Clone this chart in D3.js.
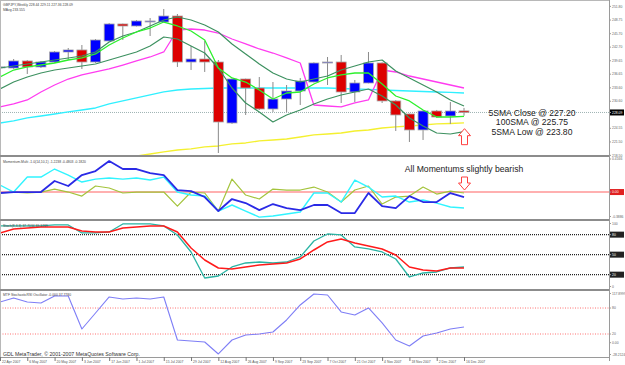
<!DOCTYPE html>
<html>
<head>
<meta charset="utf-8">
<script src="https://d3js.org/d3.v7.min.js"></script>
<style>
  body { margin: 0; background: #fff; }
  svg { display: block; font-family: "Liberation Sans", Arial, sans-serif; }
</style>
</head>
<body>
<div id="chart"></div>
<script>
// GBPJPY weekly, 22 Apr 2007 .. 16 Dec 2007
const weeks = ["22 Apr 2007","29 Apr 2007","6 May 2007","13 May 2007","20 May 2007","27 May 2007",
  "3 Jun 2007","10 Jun 2007","17 Jun 2007","24 Jun 2007","1 Jul 2007","8 Jul 2007","15 Jul 2007",
  "22 Jul 2007","29 Jul 2007","5 Aug 2007","12 Aug 2007","19 Aug 2007","26 Aug 2007","2 Sep 2007",
  "9 Sep 2007","16 Sep 2007","23 Sep 2007","30 Sep 2007","7 Oct 2007","14 Oct 2007","21 Oct 2007",
  "28 Oct 2007","4 Nov 2007","11 Nov 2007","18 Nov 2007","25 Nov 2007","2 Dec 2007","9 Dec 2007","16 Dec 2007"];

const open  = [238.24,238.03,239.60,238.26,239.37,241.61,242.06,239.37,244.07,247.87,247.42,248.42,248.31,249.65,239.37,240.04,239.37,225.74,235.57,233.56,228.87,231.10,232.89,234.90,239.15,239.37,232.67,234.68,239.15,230.66,227.75,224.18,228.42,227.30,228.44];
const high  = [239.15,240.04,239.82,239.60,241.83,242.50,243.17,244.51,248.09,247.95,248.76,249.21,251.22,250.10,242.95,244.07,239.82,235.65,235.65,236.02,234.90,234.23,235.80,239.30,240.49,240.94,235.35,241.61,239.30,230.88,227.85,228.50,228.65,230.43,229.11];
const low   = [237.81,237.81,236.69,238.03,239.15,239.82,237.81,239.15,243.95,244.29,247.30,245.18,248.20,238.26,237.59,237.14,219.03,225.52,227.53,228.65,228.20,228.20,229.76,234.80,234.23,230.21,230.43,234.60,230.21,223.95,221.49,221.94,226.86,225.52,227.36];
const close = [238.28,239.60,238.26,239.37,241.61,242.06,239.37,244.29,247.87,247.42,248.54,248.54,249.65,239.37,240.04,239.37,225.96,235.57,233.56,228.87,231.10,232.89,235.13,239.15,239.37,232.67,234.68,239.15,230.66,227.53,224.18,228.42,227.08,228.42,228.09];

// moving averages on the price chart
const sma5Close = [236.02,237.58,238.26,238.70,239.15,239.82,240.27,241.16,243.17,244.74,246.08,246.97,248.31,247.42,246.30,244.29,238.03,235.80,234.90,233.11,231.10,232.44,232.67,234.46,235.80,236.47,236.91,236.91,234.46,231.77,230.66,228.64,227.08,227.08,227.20];
const sma5High  = [238.03,238.48,238.93,239.37,239.82,240.27,240.71,241.61,243.84,245.18,246.08,247.42,248.76,249.43,248.76,247.64,246.08,243.40,241.16,238.93,236.91,235.57,234.90,235.57,236.24,237.58,238.48,239.37,239.82,237.36,235.80,234.23,232.67,230.88,229.54];
const sma5Low   = [233.34,234.90,236.02,236.91,237.58,238.03,238.48,238.93,239.82,240.71,241.61,242.95,244.96,244.51,242.95,241.38,238.03,233.56,230.21,228.20,225.96,227.53,228.64,229.99,231.10,232.00,232.67,233.34,231.77,229.76,226.86,225.07,223.50,223.28,223.80];
const maPink    = [229.32,229.99,230.88,232.67,234.23,235.57,236.47,237.14,237.81,238.70,239.60,240.49,241.61,246.52,246.75,246.52,245.85,244.51,243.40,242.28,241.38,240.27,239.15,229.76,229.54,229.32,230.21,230.88,237.58,237.14,236.24,235.57,234.90,234.23,233.56];
const maCyan    = [225.74,226.19,226.86,227.30,227.75,228.20,228.64,229.09,229.99,230.66,231.33,232.00,232.67,233.11,233.34,233.45,233.56,233.56,233.56,233.56,233.56,233.56,233.56,233.56,233.56,233.45,233.34,233.23,233.11,233.00,232.89,232.78,232.67,232.56,232.44];
const sma100    = [null,null,null,null,null,null,null,null,null,217.92,218.36,218.81,219.26,219.70,219.93,220.38,220.60,221.05,221.27,221.72,221.94,222.16,222.61,223.06,223.28,223.50,223.95,224.17,224.62,224.85,225.07,225.29,225.52,225.62,225.75];

// Momentum-Multi
const momBlue  = [-0.013,0,0,0,0.148,0.081,0.228,0.282,0.416,0.309,0.309,0.255,0.228,0.027,0.013,-0.067,-0.255,-0.094,-0.148,-0.242,-0.161,-0.215,-0.242,-0.174,-0.174,-0.282,-0.282,-0.013,-0.188,-0.215,-0.054,-0.134,-0.134,-0.013,-0.067];
const momCyan  = [0.094,0,0.201,0.201,0.309,0.228,0.134,0.174,0.188,0.174,0.188,0.161,0.201,0,-0.040,-0.054,-0.255,-0.174,-0.255,-0.336,-0.322,-0.295,-0.268,-0.013,-0.013,-0.134,0.161,0.067,-0.067,-0.054,-0.134,-0.107,-0.148,-0.201,-0.215];
const momOlive = [-0.013,0,-0.013,0,0.040,0,-0.054,0.081,0.054,-0.013,0,0,0,-0.188,0,-0.013,-0.255,0.174,-0.040,-0.094,0.040,0.027,0.027,0.067,0,-0.134,0.027,0.081,-0.161,-0.067,-0.054,0.067,-0.027,0.013,-0.013];

// Stoch(8,3,3)
const stochK = [93,93,93,93,94.5,94.5,82.5,82.5,84,96,96,96,93,79.5,54,15,18,31.5,37.5,39,37.5,39,46.5,70.5,81,79.5,61.5,58.5,54,43.5,16.5,22.5,24,30,31.5];
const stochD = [82.5,88.5,90,91.5,91.5,91.5,85.5,84,84,90,91.5,93,93,84,60,42,30,28.5,31.5,34.5,36,37.5,43.5,57,69,73.5,67.5,63,58.5,49.5,31.5,27,25.5,30,30];

// MTF StochasticRSI
const stochRsi = [93.9,103.2,93.9,91.6,107.8,107.8,31.6,68.5,105.5,100.9,103.2,100.9,105.5,6.2,3.9,1.6,-26.1,6.2,17.8,20.1,24.7,52.4,87.0,112.4,110.1,70.9,63.9,80.1,45.5,6.2,-7.6,15.5,22.4,31.6,36.2];

const priceTicks = [251.80,248.75,245.70,242.70,239.65,236.65,233.60,230.60,224.55,221.50,218.50];
const stochLevels = [80,50,20];
const rsiLevels = [80,20];
const notes = ["5SMA Close @ 227.20","100SMA @ 225.75","5SMA Low @ 223.80"];

const W = 625, H = 365, plotR = 609;
const idx = d3.range(weeks.length);

const svg = d3.select("#chart").append("svg").attr("width", W).attr("height", H);
svg.append("rect").attr("width", W).attr("height", H).attr("fill", "#fff");

// panels
const panels = {
  main:  {top: 0,   bottom: 155},
  mom:   {top: 157, bottom: 219},
  stoch: {top: 221, bottom: 289},
  rsi:   {top: 291, bottom: 357}
};

const x = d3.scaleLinear().domain([0, 34]).range([0, 464]);
const yPrice = d3.scaleLinear().domain([218.36, 253.23]).range([156, 0]);
const yMom = d3.scaleLinear().domain([-0.3886, 0.4166]).range([221, 161]);
const yStoch = d3.scaleLinear().domain([0, 100]).range([288, 221.3]);
const yRsi = d3.scaleLinear().domain([-28.2124, 117.8999]).range([354.9, 291.6]);

const defs = svg.append("defs");
Object.entries(panels).forEach(([k, p]) => {
  defs.append("clipPath").attr("id", "clip-" + k)
    .append("rect").attr("x", 0).attr("y", p.top).attr("width", plotR).attr("height", p.bottom - p.top);
});

function layer(k) {
  return svg.append("g").attr("clip-path", "url(#clip-" + k + ")");
}

function drawLine(g, values, yScale, color, width) {
  const line = d3.line()
    .defined(d => d != null)
    .x((d, i) => x(i))
    .y(d => yScale(d));
  g.append("path").datum(values)
    .attr("d", line)
    .attr("fill", "none")
    .attr("stroke", color)
    .attr("stroke-width", width)
    .attr("stroke-linejoin", "round");
}

// ---- main price panel
const main = layer("main");

main.append("line")
  .attr("x1", 0).attr("x2", plotR)
  .attr("y1", yPrice(close[34])).attr("y2", yPrice(close[34]))
  .attr("stroke", "#9fb3b3").attr("stroke-dasharray", "1,1");

drawLine(main, sma100, yPrice, "#f4f030", 1.3);
drawLine(main, maCyan, yPrice, "#30f0ff", 1.3);
drawLine(main, maPink, yPrice, "#ff3cf0", 1.3);

// candles
const candle = main.selectAll("g.candle").data(idx).join("g").attr("class", "candle");
candle.append("line")
  .attr("x1", i => x(i)).attr("x2", i => x(i))
  .attr("y1", i => yPrice(high[i])).attr("y2", i => yPrice(low[i]))
  .attr("stroke", "#8a8a8a");
candle.append("rect")
  .attr("x", i => x(i) - 5)
  .attr("width", 10)
  .attr("y", i => yPrice(Math.max(open[i], close[i])))
  .attr("height", i => Math.max(1, Math.abs(yPrice(open[i]) - yPrice(close[i]))))
  .attr("fill", i => close[i] >= open[i] ? "#0000ff" : "#dd0000")
  .attr("stroke", "#a8a8a8")
  .attr("stroke-width", 0.8);

drawLine(main, sma5High, yPrice, "#3d9160", 1.2);
drawLine(main, sma5Low, yPrice, "#3d9160", 1.2);
drawLine(main, sma5Close, yPrice, "#2cf02c", 1.3);

svg.append("text").attr("x", 3).attr("y", 6).attr("font-size", 3.4).attr("fill", "#444")
  .text("GBPJPY,Weekly  228.44 229.11 227.36 228.09");
svg.append("text").attr("x", 3).attr("y", 11).attr("font-size", 3.4).attr("fill", "#444")
  .text("MAvg 233.555");

// annotation
const noteX = x(34) + 68;
svg.selectAll("text.note").data(notes).join("text")
  .attr("class", "note")
  .attr("x", noteX)
  .attr("y", (d, i) => 116 + i * 9.3)
  .attr("text-anchor", "middle")
  .attr("font-size", 8.6)
  .attr("fill", "#222")
  .text(d => d);

function upArrow(cx, ty) {
  return `M${cx},${ty} L${cx + 6},${ty + 7} L${cx + 3},${ty + 7} L${cx + 3},${ty + 16} L${cx - 3},${ty + 16} L${cx - 3},${ty + 7} L${cx - 6},${ty + 7} Z`;
}
function downArrow(cx, by) {
  return `M${cx},${by} L${cx + 6},${by - 7} L${cx + 3},${by - 7} L${cx + 3},${by - 13} L${cx - 3},${by - 13} L${cx - 3},${by - 7} L${cx - 6},${by - 7} Z`;
}
svg.append("path").attr("d", upArrow(x(34) + 0.5, yPrice(sma5Low[34]) - 3))
  .attr("fill", "#fff").attr("stroke", "#ff4040");

// ---- momentum panel
const mom = layer("mom");
mom.append("line").attr("x1", 0).attr("x2", plotR)
  .attr("y1", yMom(0)).attr("y2", yMom(0))
  .attr("stroke", "#ffb0b0").attr("stroke-width", 2);
drawLine(mom, momOlive, yMom, "#a4c43c", 1.2);
drawLine(mom, momCyan, yMom, "#30f4ff", 1.4);
drawLine(mom, momBlue, yMom, "#2a2ae6", 1.8);

svg.append("text").attr("x", 3).attr("y", 163).attr("font-size", 3.4).attr("fill", "#444")
  .text("Momentum-Multi -1.0(14,10,1) -1.2238 -0.4803 -0.1820");
svg.append("text").attr("x", x(34)).attr("y", 172).attr("text-anchor", "middle")
  .attr("font-size", 8.6).attr("fill", "#222").text("All Momentums slightly bearish");
svg.append("path").attr("d", downArrow(x(34) + 0.5, 190))
  .attr("fill", "#fff").attr("stroke", "#ff4040");

// ---- stochastic panel
const sto = layer("stoch");
sto.selectAll("line.lvl").data(stochLevels).join("line")
  .attr("x1", 0).attr("x2", plotR)
  .attr("y1", d => yStoch(d)).attr("y2", d => yStoch(d))
  .attr("stroke", "#222").attr("stroke-width", 1.2).attr("stroke-dasharray", "1,1");
drawLine(sto, stochK, yStoch, "#2ab4a4", 1.3);
drawLine(sto, stochD, yStoch, "#ff1a1a", 1.5);
svg.append("text").attr("x", 3).attr("y", 227).attr("font-size", 3.4).attr("fill", "#444")
  .text("Stoch(8,3,3) 37.7034 39.3739");

// ---- stoch rsi panel
const rsi = layer("rsi");
rsi.selectAll("line.lvl").data(rsiLevels).join("line")
  .attr("x1", 0).attr("x2", plotR)
  .attr("y1", d => yRsi(d)).attr("y2", d => yRsi(d))
  .attr("stroke", "#ff7070").attr("stroke-dasharray", "1,1.5");
drawLine(rsi, stochRsi, yRsi, "#7e7ef6", 1.1);
svg.append("text").attr("x", 3).attr("y", 296).attr("font-size", 3.4).attr("fill", "#444")
  .text("MTF StochasticRSI Oscillator -0.000 37.7780");
svg.append("text").attr("x", 3).attr("y", 356).attr("font-size", 5.2).attr("fill", "#333")
  .text("GDL MetaTrader, \u00a9 2001-2007 MetaQuotes Software Corp.");

// ---- frames and separators
svg.append("rect").attr("x", 0.5).attr("y", 0.5).attr("width", plotR).attr("height", panels.rsi.bottom)
  .attr("fill", "none").attr("stroke", "#b8b8b8");
[panels.main.bottom, panels.mom.bottom, panels.stoch.bottom].forEach(yy => {
  svg.append("rect").attr("x", 0).attr("y", yy).attr("width", plotR + 1).attr("height", 2).attr("fill", "#8c8c8c");
});
svg.append("line").attr("x1", plotR + 0.5).attr("x2", plotR + 0.5).attr("y1", 0).attr("y2", panels.rsi.bottom + 4)
  .attr("stroke", "#9a9a9a");
svg.append("line").attr("x1", 0).attr("x2", plotR + 1).attr("y1", panels.rsi.bottom + 0.5).attr("y2", panels.rsi.bottom + 0.5)
  .attr("stroke", "#9a9a9a");

// ---- right-hand scales
const axisFont = 3.4;
function rightLabel(yy, txt, box) {
  if (box) {
    svg.append("rect").attr("x", plotR + 1).attr("y", yy - 3).attr("width", 14).attr("height", 6).attr("fill", box);
  }
  svg.append("line").attr("x1", plotR).attr("x2", plotR + 2).attr("y1", yy).attr("y2", yy).attr("stroke", "#9a9a9a");
  svg.append("text").attr("x", plotR + 3).attr("y", yy).attr("dy", "0.35em")
    .attr("font-size", axisFont).attr("fill", box ? "#fff" : "#666").text(txt);
}
priceTicks.forEach(p => rightLabel(yPrice(p), p.toFixed(2)));
rightLabel(yPrice(close[34]), close[34].toFixed(2), "#000");

rightLabel(159, "0.4166");
rightLabel(yMom(0), "0.00", "#e02020");
rightLabel(216.5, "-0.3886");

rightLabel(223.5, "100");
stochLevels.forEach(l => rightLabel(yStoch(l), String(l), "#222"));
rightLabel(286.5, "0");

rightLabel(293.5, "117.8999");
rsiLevels.forEach(l => rightLabel(yRsi(l), String(l)));
rightLabel(yRsi(0), "0.00");
rightLabel(354.5, "-28.2124");

// ---- time axis
const dateIdx = idx.filter(i => i % 2 === 0);
const tick = svg.selectAll("g.date").data(dateIdx).join("g").attr("class", "date");
tick.append("line")
  .attr("x1", i => x(i) + 0.5).attr("x2", i => x(i) + 0.5)
  .attr("y1", panels.rsi.bottom).attr("y2", panels.rsi.bottom + 4)
  .attr("stroke", "#777");
tick.append("text")
  .attr("x", i => x(i) + 2)
  .attr("y", 362.5)
  .attr("font-size", 3.4)
  .attr("fill", "#555")
  .text(i => weeks[i]);
</script>
</body>
</html>
